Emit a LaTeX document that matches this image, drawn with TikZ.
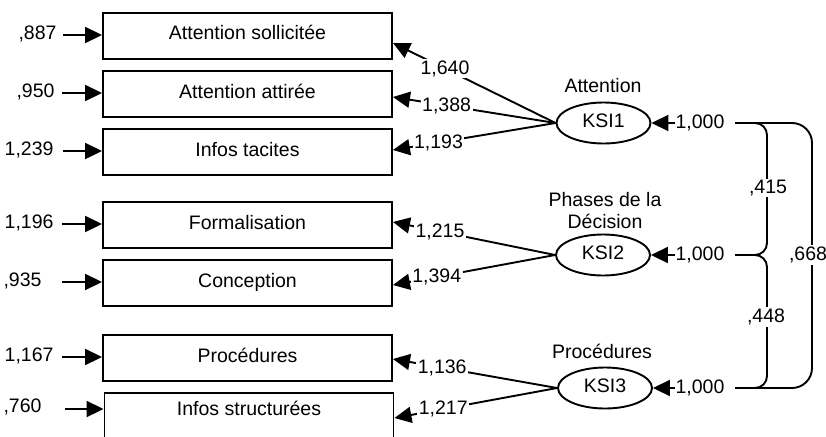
\documentclass[tikz,border=0pt]{standalone}
\usepackage{fontspec}
\setmainfont{Liberation Sans}
\usetikzlibrary{arrows.meta,shapes.geometric}
\begin{document}
\begin{tikzpicture}[x=1pt,y=-1pt,
  every node/.style={font=\fontsize{19.5}{22}\selectfont},
  ind/.style={draw,line width=1.9pt,minimum width=289pt,minimum height=46pt,
              inner sep=0pt,text height=14pt,text depth=6pt},
  lat/.style={draw,ellipse,line width=1.9pt,minimum width=94pt,minimum height=41pt,
              inner sep=0pt,text height=14pt,text depth=6pt},
  val/.style={fill=white,inner sep=1.5pt},
  arr/.style={line width=1.9pt,-{Triangle[length=17pt,width=16pt]}},
  cov/.style={line width=1.9pt}
]
\fill[white] (0,0) rectangle (826,436);
\useasboundingbox (0,0) rectangle (826,436);

% observed indicators
\node[ind] (b1) at (247.5,36)  {Attention sollicitée};
\node[ind] (b2) at (247.5,94)  {Attention attirée};
\node[ind] (b3) at (247.5,152) {Infos tacites};
\node[ind] (b4) at (247.5,225) {Formalisation};
\node[ind] (b5) at (247.5,283) {Conception};
\node[ind] (b6) at (247.5,358) {Procédures};
\node[ind,text depth=16pt] (b7) at (249,416) {Infos structurées};

% error variances
\node[anchor=base east] (e1) at (60,39.5)  {,887};
\node[anchor=base east] (e2) at (58,97.5)  {,950};
\node[anchor=base east] (e3) at (57,155.5) {1,239};
\node[anchor=base east] (e4) at (57,228.5) {1,196};
\node[anchor=base east] (e5) at (45,286.5) {,935};
\node[anchor=base east] (e6) at (57,361.5) {1,167};
\node[anchor=base east] (e7) at (45,412.5) {,760};
\coordinate (s1) at (63,35);
\coordinate (s2) at (62,93);
\coordinate (s3) at (63,151);
\coordinate (s4) at (62,224);
\coordinate (s5) at (62,282);
\coordinate (s6) at (62,357);
\coordinate (s7) at (65,409);
\foreach \i in {1,...,7}{\draw[arr] (s\i) -- (s\i -| b\i.west);}

% latent factors
\node[lat] (K1) at (603.5,123) {KSI1};
\node[lat] (K2) at (603,255)   {KSI2};
\node[lat] (K3) at (605,388)   {KSI3};
\node (n1) at (603,86) {Attention};
\node[align=center] (n2) at (605,211) {Phases de la\\Décision};
\node (n3) at (602,351) {Procédures};

% loadings
\draw[arr] (K1.west) -- node[val,pos=0.68] {1,640} ([yshift=-7pt]b1.east);
\draw[arr] (K1.west) -- node[val,pos=0.67] {1,388} ([yshift=-3pt]b2.east);
\draw[arr] (K1.west) -- node[val,pos=0.72] {1,193} ([yshift=2pt]b3.east);
\draw[arr] (K2.west) -- node[val,pos=0.71] {1,215} ([yshift=3pt]b4.east);
\draw[arr] (K2.west) -- node[val,pos=0.73] {1,394} ([yshift=-2pt]b5.east);
\draw[arr] (K3.west) -- node[val,pos=0.70] {1,136} ([yshift=-1pt]b6.east);
\draw[arr] (K3.west) -- node[val,pos=0.70] {1,217} ([yshift=-2pt]b7.east);

% factor variances
\node[inner sep=0pt] (v1) at (700,123) {1,000};
\node[inner sep=0pt] (v2) at (700,255) {1,000};
\node[inner sep=0pt] (v3) at (700,388) {1,000};
\draw[arr] (v1.west) -- (K1.east);
\draw[arr] (v2.west) -- (K2.east);
\draw[arr] (v3.west) -- (K3.east);
\coordinate (c1) at (735,123);
\coordinate (c2) at (735,255);
\coordinate (c3) at (735,388);

% covariances
\draw[cov,rounded corners=12pt] (c1) -| (767,255) -- (c2);
\draw[cov,rounded corners=12pt] (c2) -| (767,388) -- (c3);
\draw[cov,rounded corners=20pt] (c1) -| (812,388) -- (c3);
\node[val] (r12) at (768,188) {,415};
\node[val] (r23) at (766,317) {,448};
\node[val] (r13) at (808,255) {,668};
\end{tikzpicture}
\end{document}
